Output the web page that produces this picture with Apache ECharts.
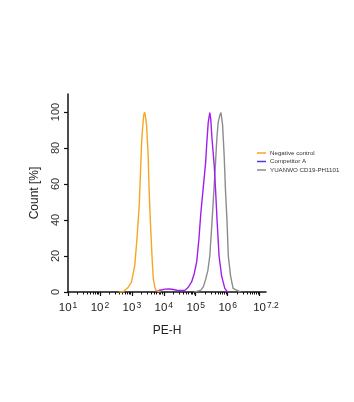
<!DOCTYPE html>
<html><head><meta charset="utf-8">
<script src="https://cdn.jsdelivr.net/npm/echarts@6/dist/echarts.min.js"></script>
<style>html,body{margin:0;padding:0;background:#fff}#c{width:354px;height:402px}</style>
</head><body><div id="c"></div>
<script>
// x values are log10(PE-H)
var seriesNames = ['Negative control', 'Competitor A', 'YUANWO CD19-PH1101'];
var negX = [2.60, 2.72, 2.78, 2.88, 2.99, 3.09, 3.16, 3.23, 3.27, 3.31, 3.35, 3.37, 3.40, 3.43, 3.46, 3.51, 3.54, 3.58, 3.63, 3.67, 3.72, 3.75, 3.80, 3.90];
var negY = [0, 0, 1, 2.5, 5.6, 14.8, 29.6, 48, 66.7, 85, 94, 98, 100, 97, 92.6, 76, 57, 39, 20, 7.4, 2.5, 1, 0, 0];
var compX = [3.75, 3.88, 4.03, 4.15, 4.25, 4.41, 4.56, 4.66, 4.76, 4.87, 4.95, 5.03, 5.10, 5.16, 5.23, 5.31, 5.34, 5.39, 5.44, 5.47, 5.51, 5.58, 5.62, 5.67, 5.73, 5.81, 5.91, 5.98, 6.05];
var compY = [0.3, 1, 1.6, 1.7, 1.5, 1, 0.8, 1, 2.5, 5.6, 10, 16.7, 29.6, 44, 57, 72, 81, 94, 99.7, 96, 85, 70, 57, 39, 20, 9, 2, 0.3, 0];
var yuanX = [4.95, 5.03, 5.16, 5.24, 5.31, 5.38, 5.44, 5.51, 5.57, 5.62, 5.66, 5.70, 5.75, 5.79, 5.84, 5.89, 5.93, 5.98, 6.02, 6.09, 6.17, 6.28, 6.32, 6.40];
var yuanY = [0, 0.3, 1, 3, 7, 12, 20, 39, 57, 72, 85, 94, 98, 99.7, 93, 76, 57, 39, 20, 9, 2, 1, 0, 0];
var xLabelValues = [1, 2, 3, 4, 5, 6, 7.2];
var xMajorTicks = [1, 2, 3, 4, 5, 6, 7];
var yTickValues = [0, 20, 40, 60, 80, 100];

function pairs(xs, ys) { return xs.map(function (x, i) { return [x, ys[i]]; }); }
var minorTicks = [];
for (var n = 1; n <= 6; n++) { for (var k = 2; k <= 9; k++) { minorTicks.push(n + Math.log10(k)); } }

var colors = ['#F6A623', '#A21EF0', '#8C8C8C'];
var legendIconColors = ['#F6A623', '#5B35D5', '#8C8C8C'];
var font = 'Liberation Sans, Arial, sans-serif';

var chart = echarts.init(document.getElementById('c'));
chart.setOption({
  animation: false,
  backgroundColor: '#fff',
  grid: { left: 68, top: 94, width: 198, height: 198, containLabel: false },
  legend: {
    orient: 'vertical', left: 252, top: 145, icon: 'rect', itemWidth: 9, itemHeight: 1.5, itemGap: 2.5,
    textStyle: { fontSize: 6.2, color: '#333', fontFamily: font, padding: [0, 0, 0, -1] },
    data: seriesNames.map(function (n, i) { return { name: n, itemStyle: { color: legendIconColors[i] } }; })
  },
  xAxis: [{
    type: 'value', min: 1, max: 7.2,
    axisLine: { show: true, onZero: false, lineStyle: { color: '#111', width: 1.5 } },
    axisTick: { show: true, length: 4, inside: false, customValues: xMajorTicks, lineStyle: { color: '#111', width: 1.2 } },
    splitLine: { show: false },
    axisLabel: {
      margin: 9, customValues: xLabelValues, color: '#222', fontFamily: font,
      formatter: function (v) { return '{b|10}{s|' + (Math.round(v * 10) / 10) + '}'; },
      rich: { b: { fontSize: 11.5, fontFamily: font, color: '#222' }, s: { fontSize: 8.5, fontFamily: font, color: '#222', verticalAlign: 'top', padding: [0, 0, 5, 1] } }
    },
    name: 'PE-H', nameLocation: 'middle', nameGap: 33,
    nameTextStyle: { fontSize: 12, color: '#222', fontFamily: font }
  }, {
    type: 'value', min: 1, max: 7.2, position: 'bottom',
    axisLine: { show: false },
    axisTick: { show: true, length: 2.5, customValues: minorTicks, lineStyle: { color: '#111', width: 1 } },
    axisLabel: { show: false }, splitLine: { show: false }
  }],
  yAxis: {
    type: 'value', min: 0, max: 110,
    axisLine: { show: true, lineStyle: { color: '#111', width: 1.5 } },
    axisTick: { show: true, length: 4, customValues: yTickValues, lineStyle: { color: '#111', width: 1.2 } },
    splitLine: { show: false },
    axisLabel: { rotate: 90, margin: 7, customValues: yTickValues, fontSize: 11, color: '#333', fontFamily: font },
    name: 'Count [%]', nameLocation: 'middle', nameGap: 27,
    nameTextStyle: { fontSize: 12, color: '#222', fontFamily: font }
  },
  series: [
    { name: seriesNames[2], type: 'line', data: pairs(yuanX, yuanY), symbol: 'none', z: 2, lineStyle: { color: colors[2], width: 1.4 }, itemStyle: { color: colors[2] } },
    { name: seriesNames[1], type: 'line', data: pairs(compX, compY), symbol: 'none', z: 3, lineStyle: { color: colors[1], width: 1.4 }, itemStyle: { color: legendIconColors[1] } },
    { name: seriesNames[0], type: 'line', data: pairs(negX, negY), symbol: 'none', z: 4, lineStyle: { color: colors[0], width: 1.4 }, itemStyle: { color: colors[0] } }
  ]
});
</script></body></html>
